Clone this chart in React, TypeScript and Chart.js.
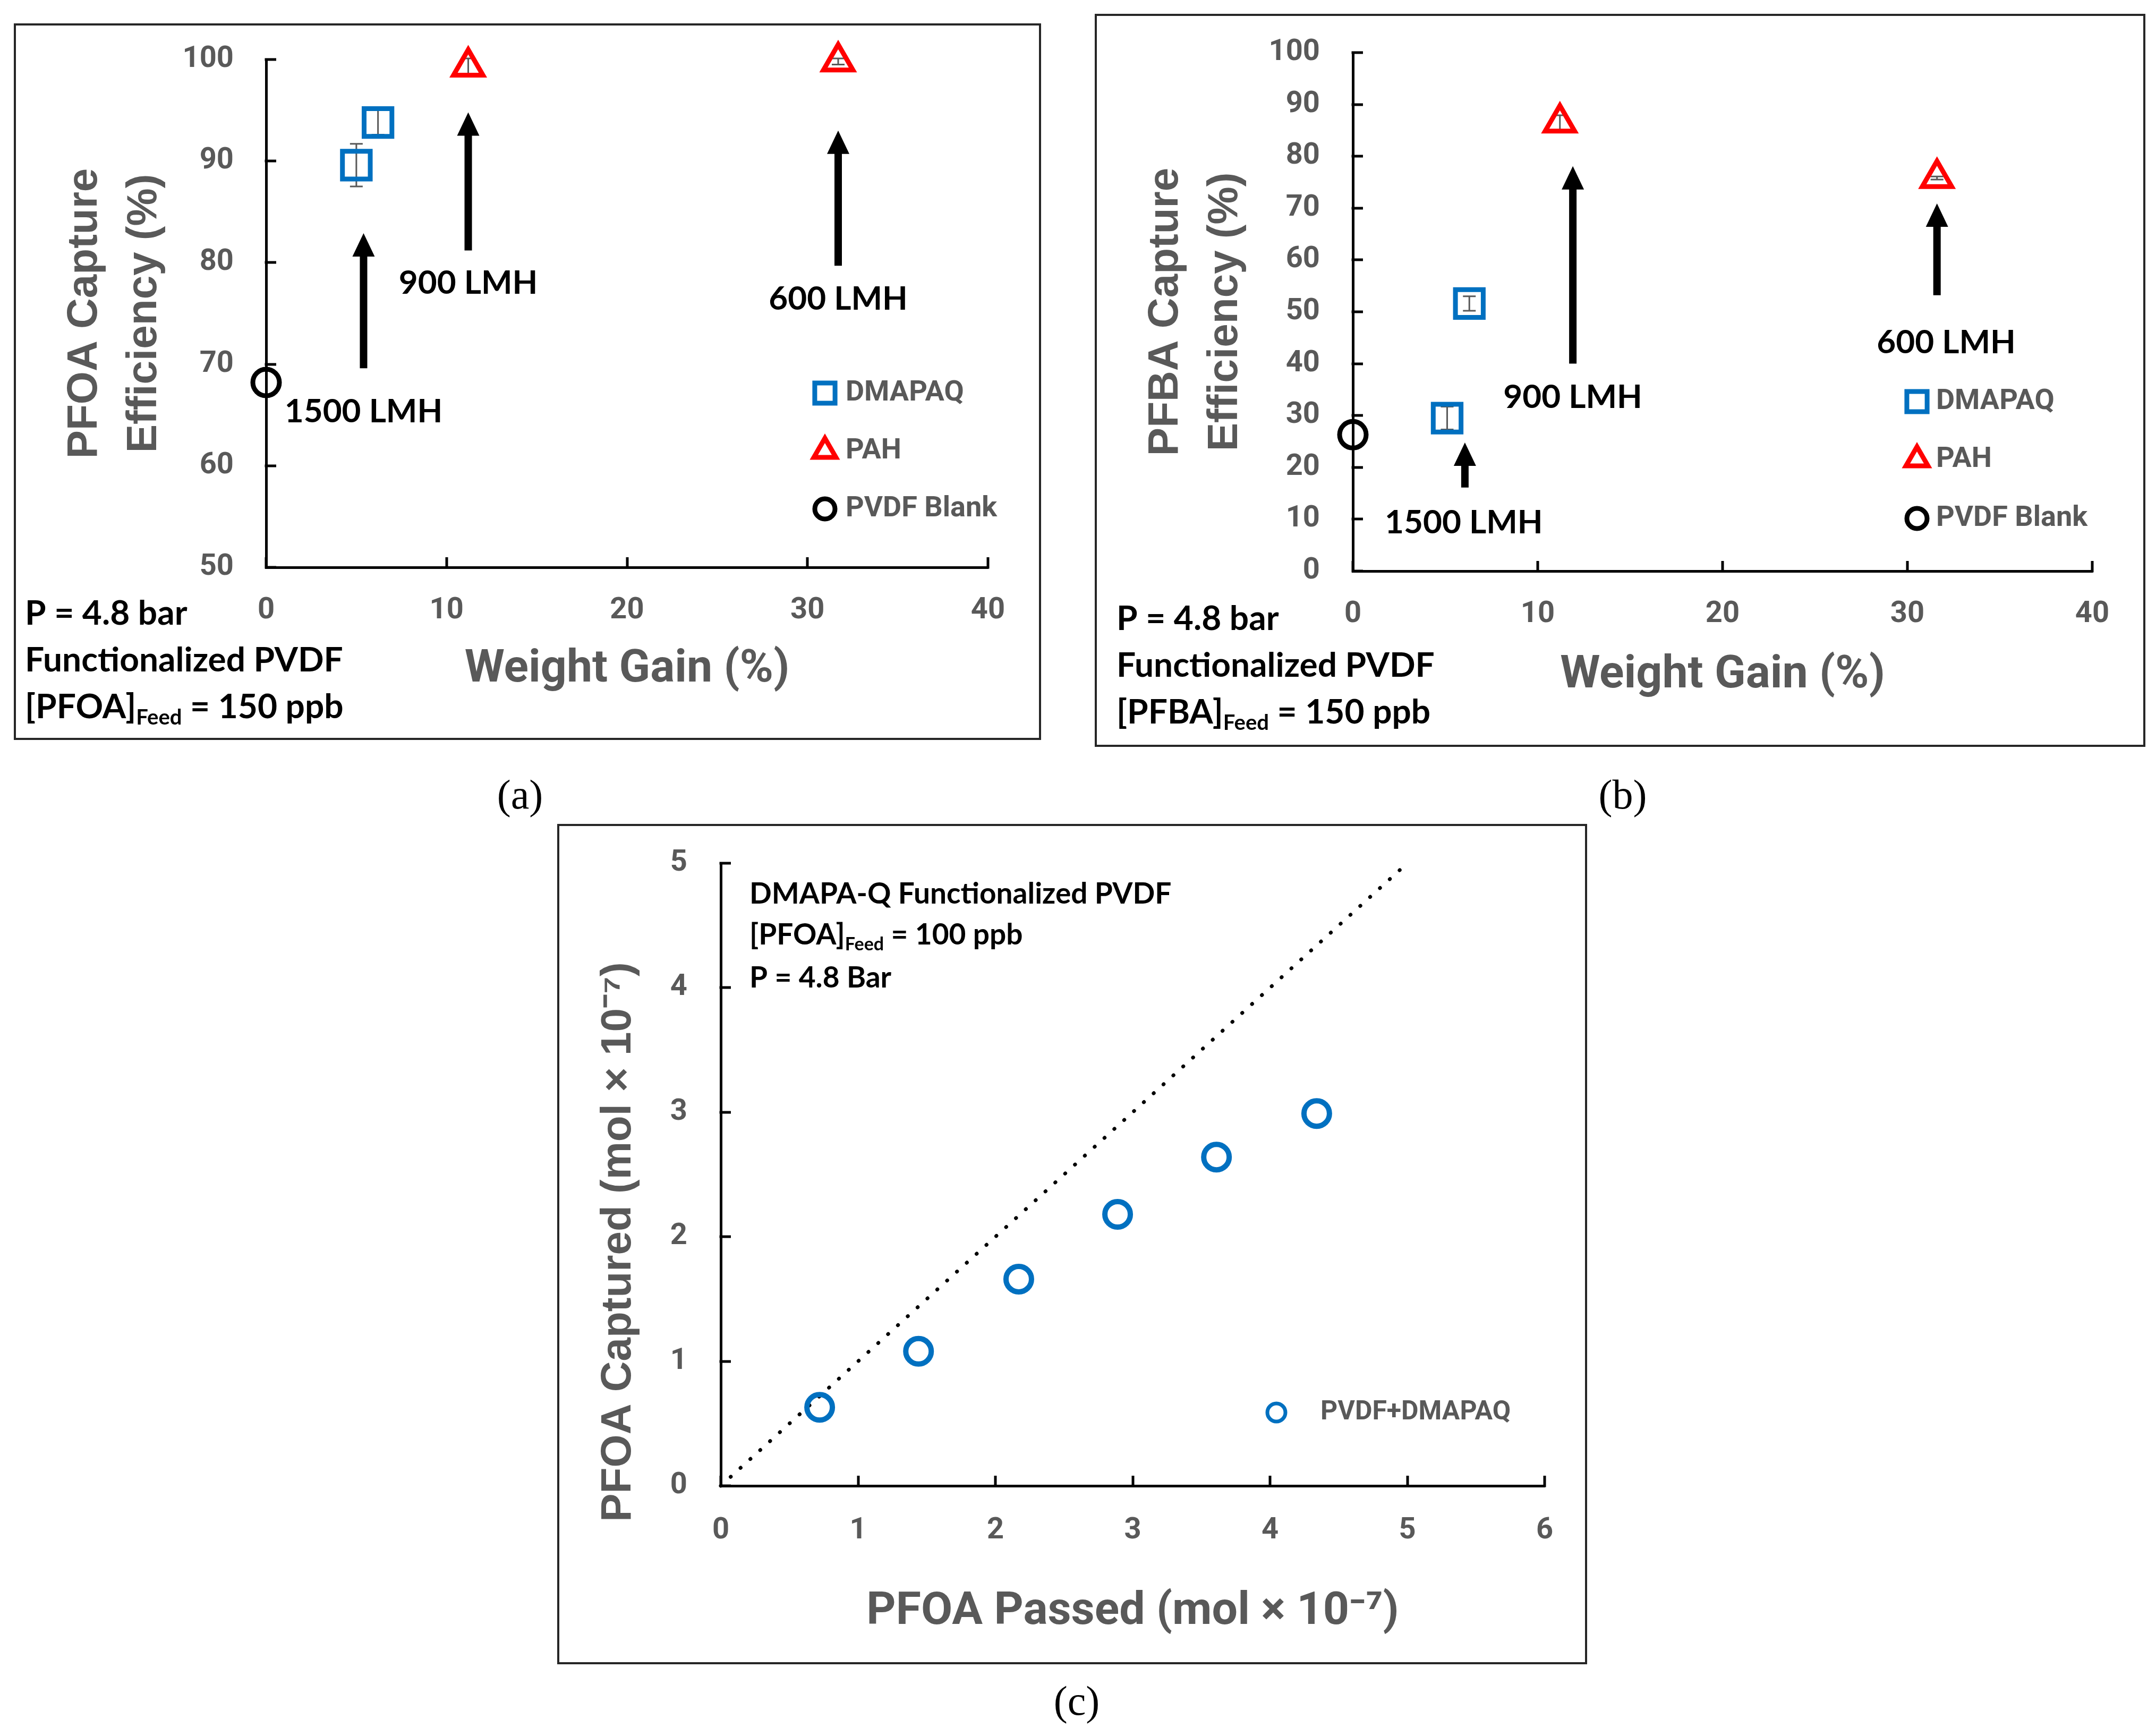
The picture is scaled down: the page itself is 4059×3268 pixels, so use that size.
import React, { useEffect, useRef } from 'react';
import { Chart, registerables } from 'chart.js';

Chart.register(...registerables);

// ---------------- Panel (a): PFOA capture vs weight gain ----------------
const aDmapaqX = [5.0, 6.2];
const aDmapaqY = [89.6, 93.8];
const aDmapaqErr = [2.1, 1.2];
const aPahX = [11.2, 31.7];
const aPahY = [99.3, 99.8];
const aPahErr = [0.8, 0.3];
const aBlankX = [0];
const aBlankY = [68.2];
const aXTicks = [0, 10, 20, 30, 40];
const aYTicks = [50, 60, 70, 80, 90, 100];
const aArrowX = [5.4, 11.2, 31.7];
const aArrowBase = [69.6, 81.2, 79.7];
const aArrowTip = [82.9, 94.8, 93.0];
const aFluxLabels = ['1500 LMH', '900 LMH', '600 LMH'];
const aFluxLabelX = [5.4, 11.2, 31.7];
const aFluxLabelY = [65.3, 78.0, 76.4];

// ---------------- Panel (b): PFBA capture vs weight gain ----------------
const bDmapaqX = [5.1, 6.3];
const bDmapaqY = [29.5, 51.6];
const bDmapaqErr = [2.2, 1.4];
const bPahX = [11.2, 31.6];
const bPahY = [86.5, 75.8];
const bPahErr = [1.4, 0.3];
const bBlankX = [0];
const bBlankY = [26.3];
const bXTicks = [0, 10, 20, 30, 40];
const bYTicks = [0, 10, 20, 30, 40, 50, 60, 70, 80, 90, 100];
const bArrowX = [6.06, 11.9, 31.6];
const bArrowBase = [16.1, 40.0, 53.2];
const bArrowTip = [24.8, 78.1, 70.9];
const bFluxLabels = ['1500 LMH', '900 LMH', '600 LMH'];
const bFluxLabelX = [6.0, 11.9, 32.1];
const bFluxLabelY = [9.3, 33.5, 44.1];

// ---------------- Panel (c): PFOA captured vs passed ----------------
const cPassed = [0.72, 1.44, 2.17, 2.89, 3.61, 4.34];
const cCaptured = [0.63, 1.08, 1.66, 2.18, 2.64, 2.99];
const cParityX = [0, 5];
const cParityY = [0, 5];
const cXTicks = [0, 1, 2, 3, 4, 5, 6];
const cYTicks = [0, 1, 2, 3, 4, 5];

// ---------------- styles ----------------
const GRAY = '#595959';
const BLUE = '#0070C0';
const RED = '#FF0000';
const SANS = 'Roboto, "Liberation Sans", sans-serif';
const ARIAL = '"Liberation Sans", Arial, sans-serif';
const CAL = 'Lato, "Open Sans", sans-serif';
const SERIF = '"Liberation Serif", "Times New Roman", serif';
const INNER_TICK = 19;

type Seg = { t: string; sub?: boolean };

const pts = (xs: number[], ys: number[]) => xs.map((x, i) => ({ x, y: ys[i] }));

function drawMarker(ctx: CanvasRenderingContext2D, style: string, x: number, y: number, r: number, color: string, lw: number) {
  ctx.save();
  ctx.strokeStyle = color;
  ctx.lineWidth = lw;
  ctx.beginPath();
  if (style === 'rect') {
    const s = Math.SQRT1_2 * r;
    ctx.rect(x - s, y - s, 2 * s, 2 * s);
  } else if (style === 'triangle') {
    let a = 0;
    ctx.moveTo(x + Math.sin(a) * r, y - Math.cos(a) * r);
    a += (2 * Math.PI) / 3;
    ctx.lineTo(x + Math.sin(a) * r, y - Math.cos(a) * r);
    a += (2 * Math.PI) / 3;
    ctx.lineTo(x + Math.sin(a) * r, y - Math.cos(a) * r);
    ctx.closePath();
  } else {
    ctx.arc(x, y, r, 0, Math.PI * 2);
  }
  ctx.stroke();
  ctx.restore();
}

function drawSegs(ctx: CanvasRenderingContext2D, segs: Seg[], x: number, y: number, size: number, family: string, color: string, align: 'left' | 'center') {
  ctx.save();
  ctx.fillStyle = color;
  ctx.textBaseline = 'middle';
  ctx.textAlign = 'left';
  const fontFor = (s: Seg) => `bold ${s.sub ? Math.round(size * 0.62) : size}px ${family}`;
  let total = 0;
  segs.forEach((s) => { ctx.font = fontFor(s); total += ctx.measureText(s.t).width; });
  let cx = align === 'center' ? x - total / 2 : x;
  segs.forEach((s) => {
    ctx.font = fontFor(s);
    ctx.fillText(s.t, cx, s.sub ? y + size * 0.32 : y);
    cx += ctx.measureText(s.t).width;
  });
  ctx.restore();
}

function makeOverlay(spec: any) {
  return {
    id: 'overlay',
    beforeDatasetsDraw(chart: any) {
      const ctx = chart.ctx;
      const xs = chart.scales.x;
      const ys = chart.scales.y;
      const area = chart.chartArea;
      // inward tick marks
      ctx.save();
      ctx.strokeStyle = '#000';
      ctx.lineWidth = 5;
      ctx.beginPath();
      xs.ticks.forEach((t: any) => {
        const px = Math.round(xs.getPixelForValue(t.value));
        ctx.moveTo(px, area.bottom + 2.5);
        ctx.lineTo(px, area.bottom - INNER_TICK);
      });
      ys.ticks.forEach((t: any) => {
        const py = Math.round(ys.getPixelForValue(t.value));
        ctx.moveTo(area.left - 2.5, py);
        ctx.lineTo(area.left + INNER_TICK, py);
      });
      ctx.stroke();
      ctx.restore();
      // error bars
      ctx.save();
      ctx.strokeStyle = GRAY;
      ctx.lineWidth = 3;
      chart.data.datasets.forEach((ds: any, i: number) => {
        if (!ds.errors) return;
        const meta = chart.getDatasetMeta(i);
        meta.data.forEach((pt: any, j: number) => {
          const e = ds.errors[j];
          if (!e) return;
          const v = ds.data[j].y;
          const y1 = ys.getPixelForValue(v + e);
          const y2 = ys.getPixelForValue(v - e);
          const px = pt.x;
          ctx.beginPath();
          ctx.moveTo(px, y1); ctx.lineTo(px, y2);
          ctx.moveTo(px - 12, y1); ctx.lineTo(px + 12, y1);
          ctx.moveTo(px - 12, y2); ctx.lineTo(px + 12, y2);
          ctx.stroke();
        });
      });
      ctx.restore();
    },
    afterDatasetsDraw(chart: any) {
      const ctx = chart.ctx;
      const xs = chart.scales.x;
      const ys = chart.scales.y;
      if (spec.arrows) {
        const a = spec.arrows;
        ctx.save();
        ctx.fillStyle = '#000';
        a.x.forEach((xv: number, i: number) => {
          const px = xs.getPixelForValue(xv);
          const yb = ys.getPixelForValue(a.base[i]);
          const yt = ys.getPixelForValue(a.tip[i]);
          const sw = 14, hw = 42, hl = 44;
          ctx.beginPath();
          ctx.moveTo(px - sw / 2, yb);
          ctx.lineTo(px - sw / 2, yt + hl);
          ctx.lineTo(px - hw / 2, yt + hl);
          ctx.lineTo(px, yt);
          ctx.lineTo(px + hw / 2, yt + hl);
          ctx.lineTo(px + sw / 2, yt + hl);
          ctx.lineTo(px + sw / 2, yb);
          ctx.closePath();
          ctx.fill();
        });
        ctx.restore();
        a.labels.forEach((t: string, i: number) => {
          drawSegs(ctx, [{ t }], xs.getPixelForValue(a.lx[i]), ys.getPixelForValue(a.ly[i]), 62, CAL, '#000', 'center');
        });
      }
      if (spec.legend) {
        const L = spec.legend;
        L.items.forEach((idx: number, k: number) => {
          const ds = chart.data.datasets[idx];
          drawMarker(ctx, ds.pointStyle, L.markerX, L.rows[k], L.radii[k], ds.pointBorderColor, L.lw);
          drawSegs(ctx, [{ t: ds.label }], L.textX, L.rows[k], L.size, SANS, GRAY, 'left');
        });
      }
      if (spec.notes) {
        const N = spec.notes;
        N.lines.forEach((segs: Seg[], k: number) => {
          drawSegs(ctx, segs, N.x, N.rows[k], N.size, CAL, '#000', 'left');
        });
      }
      if (spec.yTitle) {
        const T = spec.yTitle;
        ctx.save();
        ctx.translate(T.x, T.y);
        ctx.rotate(-Math.PI / 2);
        ctx.font = `bold ${T.size}px ${ARIAL}`;
        ctx.fillStyle = GRAY;
        ctx.textAlign = 'center';
        ctx.textBaseline = 'middle';
        ctx.fillText(T.text, 0, 0);
        ctx.restore();
      }
    },
  };
}

function axis(min: number, max: number, ticks: number[], horizontal: boolean, fitSize: number, labelGap: number, title: any) {
  return {
    type: 'linear',
    min,
    max,
    afterBuildTicks: (s: any) => { s.ticks = ticks.map((v) => ({ value: v })); },
    afterFit: (s: any) => { if (horizontal) s.height = fitSize; else s.width = fitSize; },
    border: { display: true, color: '#000', width: 5 },
    grid: { display: true, drawOnChartArea: false, drawTicks: true, tickLength: labelGap, tickColor: 'rgba(0,0,0,0)', tickWidth: 1, color: 'rgba(0,0,0,0)', lineWidth: 1 },
    ticks: {
      padding: 0,
      color: GRAY,
      font: { family: SANS, size: 56, weight: 'bold' },
      maxRotation: 0,
      minRotation: 0,
      autoSkip: false,
      callback: (v: any) => String(v),
    },
    title,
  };
}

function weightGainConfig(p: any) {
  const datasets = [
    { label: 'DMAPAQ', data: pts(p.dX, p.dY), errors: p.dE, pointStyle: 'rect', pointRadius: 37, pointBorderWidth: 9, pointBorderColor: BLUE, borderColor: BLUE, pointBackgroundColor: 'rgba(0,0,0,0)', backgroundColor: 'rgba(0,0,0,0)', clip: false },
    { label: 'PAH', data: pts(p.pX, p.pY), errors: p.pE, pointStyle: 'triangle', pointRadius: 32, pointBorderWidth: 9, pointBorderColor: RED, borderColor: RED, pointBackgroundColor: 'rgba(0,0,0,0)', backgroundColor: 'rgba(0,0,0,0)', clip: false },
    { label: 'PVDF Blank', data: pts(p.bX, p.bY), pointStyle: 'circle', pointRadius: 25, pointBorderWidth: 9, pointBorderColor: '#000', borderColor: '#000', pointBackgroundColor: 'rgba(0,0,0,0)', backgroundColor: 'rgba(0,0,0,0)', clip: false },
  ];
  return {
    type: 'scatter',
    data: { datasets },
    options: {
      animation: false,
      responsive: false,
      devicePixelRatio: 1,
      events: [],
      layout: { padding: { left: 0, top: p.area.top, right: p.W - p.area.right, bottom: 0 } },
      plugins: { legend: { display: false }, tooltip: { enabled: false } },
      scales: {
        x: axis(0, 40, p.xTicks, true, p.H - p.area.bottom, 48, {
          display: true, text: 'Weight Gain (%)', color: GRAY,
          font: { family: SANS, size: 86, weight: 'bold', lineHeight: 1.2 },
          padding: { top: 0, bottom: p.xTitlePad },
        }),
        y: axis(p.yMin, 100, p.yTicks, false, p.area.left, p.yGap, {
          display: true, text: p.yTitle, color: GRAY,
          font: { family: ARIAL, size: 80, weight: 'bold', lineHeight: 1.4 },
          padding: { top: 78, bottom: 0 },
        }),
      },
    },
    plugins: [makeOverlay(p.overlay)],
  };
}

const A_W = 1934, A_H = 1349;
const B_W = 1978, B_H = 1380;
const C_W = 1939, C_H = 1582;

function configA() {
  return weightGainConfig({
    W: A_W, H: A_H, area: { left: 475, top: 68, right: 1834, bottom: 1024 },
    dX: aDmapaqX, dY: aDmapaqY, dE: aDmapaqErr, pX: aPahX, pY: aPahY, pE: aPahErr, bX: aBlankX, bY: aBlankY,
    xTicks: aXTicks, yTicks: aYTicks, yMin: 50, yGap: 61, xTitlePad: 80,
    yTitle: ['PFOA Capture', 'Efficiency (%)'],
    overlay: {
      arrows: { x: aArrowX, base: aArrowBase, tip: aArrowTip, labels: aFluxLabels, lx: aFluxLabelX, ly: aFluxLabelY },
      legend: { items: [0, 1, 2], markerX: 1527, textX: 1566, rows: [696, 805, 914], radii: [27, 24, 19], lw: 9, size: 54 },
      notes: {
        x: 21, rows: [1111, 1199, 1287], size: 64,
        lines: [[{ t: 'P = 4.8 bar' }], [{ t: 'Functionalized PVDF' }], [{ t: '[PFOA]' }, { t: 'Feed', sub: true }, { t: ' = 150 ppb' }]],
      },
    },
  });
}

function configB() {
  return weightGainConfig({
    W: B_W, H: B_H, area: { left: 486, top: 73, right: 1878, bottom: 1049 },
    dX: bDmapaqX, dY: bDmapaqY, dE: bDmapaqErr, pX: bPahX, pY: bPahY, pE: bPahErr, bX: bBlankX, bY: bBlankY,
    xTicks: bXTicks, yTicks: bYTicks, yMin: 0, yGap: 62, xTitlePad: 82,
    yTitle: ['PFBA Capture', 'Efficiency (%)'],
    overlay: {
      arrows: { x: bArrowX, base: bArrowBase, tip: bArrowTip, labels: bFluxLabels, lx: bFluxLabelX, ly: bFluxLabelY },
      legend: { items: [0, 1, 2], markerX: 1548, textX: 1584, rows: [730, 839, 950], radii: [27, 24, 19], lw: 9, size: 54 },
      notes: {
        x: 41, rows: [1139, 1227, 1315], size: 64,
        lines: [[{ t: 'P = 4.8 bar' }], [{ t: 'Functionalized PVDF' }], [{ t: '[PFBA]' }, { t: 'Feed', sub: true }, { t: ' = 150 ppb' }]],
      },
    },
  });
}

function configC() {
  const area = { left: 308, top: 74, right: 1859, bottom: 1246 };
  return {
    type: 'scatter',
    data: {
      datasets: [
        { label: 'PVDF+DMAPAQ', data: pts(cPassed, cCaptured), pointStyle: 'circle', pointRadius: 24, pointBorderWidth: 10, pointBorderColor: BLUE, borderColor: BLUE, pointBackgroundColor: 'rgba(0,0,0,0)', backgroundColor: 'rgba(0,0,0,0)', clip: false },
        { label: 'y = x', data: pts(cParityX, cParityY), showLine: true, borderColor: '#000', borderWidth: 7, borderDash: [0.5, 24.5], borderCapStyle: 'round', pointRadius: 0, fill: false, clip: false },
      ],
    },
    options: {
      animation: false,
      responsive: false,
      devicePixelRatio: 1,
      events: [],
      layout: { padding: { left: 0, top: area.top, right: C_W - area.right, bottom: 0 } },
      plugins: { legend: { display: false }, tooltip: { enabled: false } },
      scales: {
        x: axis(0, 6, cXTicks, true, C_H - area.bottom, 51, {
          display: true, text: 'PFOA Passed (mol × 10⁻⁷)', color: GRAY,
          font: { family: SANS, size: 86, weight: 'bold', lineHeight: 1.2 },
          padding: { top: 0, bottom: 46 },
        }),
        y: axis(0, 5, cYTicks, false, area.left, 63, { display: false }),
      },
    },
    plugins: [makeOverlay({
      legend: { items: [0], markerX: 1354, textX: 1437, rows: [1108], radii: [17], lw: 7, size: 50 },
      notes: {
        x: 362, rows: [132, 209, 290], size: 55,
        lines: [[{ t: 'DMAPA-Q Functionalized PVDF' }], [{ t: '[PFOA]' }, { t: 'Feed', sub: true }, { t: ' = 100 ppb' }], [{ t: 'P = 4.8 Bar' }]],
      },
      yTitle: { x: 116, y: 787, size: 80, text: 'PFOA Captured (mol × 10⁻⁷)' },
    })],
  };
}

function Panel({ make, left, top, width, height }: any) {
  const ref = useRef<HTMLCanvasElement>(null);
  useEffect(() => {
    const chart = new Chart(ref.current as HTMLCanvasElement, make());
    return () => chart.destroy();
  }, []);
  return (
    <>
      <canvas ref={ref} width={width} height={height} style={{ position: 'absolute', left, top, width, height }} />
      <div style={{ position: 'absolute', left, top, width, height, boxSizing: 'border-box', border: '4px solid #262626', pointerEvents: 'none' }} />
    </>
  );
}

function Caption({ text, x, y }: any) {
  return (
    <div style={{ position: 'absolute', left: x, top: y, transform: 'translate(-50%, -50%)', fontFamily: SERIF, fontSize: 78, color: '#000', whiteSpace: 'nowrap', lineHeight: 1 }}>
      {text}
    </div>
  );
}

export default function App() {
  return (
    <div style={{ position: 'absolute', left: 0, top: 0, width: 4059, height: 3268, background: '#fff', overflow: 'hidden' }}>
      <Panel make={configA} left={26} top={44} width={A_W} height={A_H} />
      <Panel make={configB} left={2061} top={26} width={B_W} height={B_H} />
      <Panel make={configC} left={1049} top={1551} width={C_W} height={C_H} />
      <Caption text="(a)" x={979} y={1496} />
      <Caption text="(b)" x={3055} y={1496} />
      <Caption text="(c)" x={2027} y={3202} />
    </div>
  );
}
